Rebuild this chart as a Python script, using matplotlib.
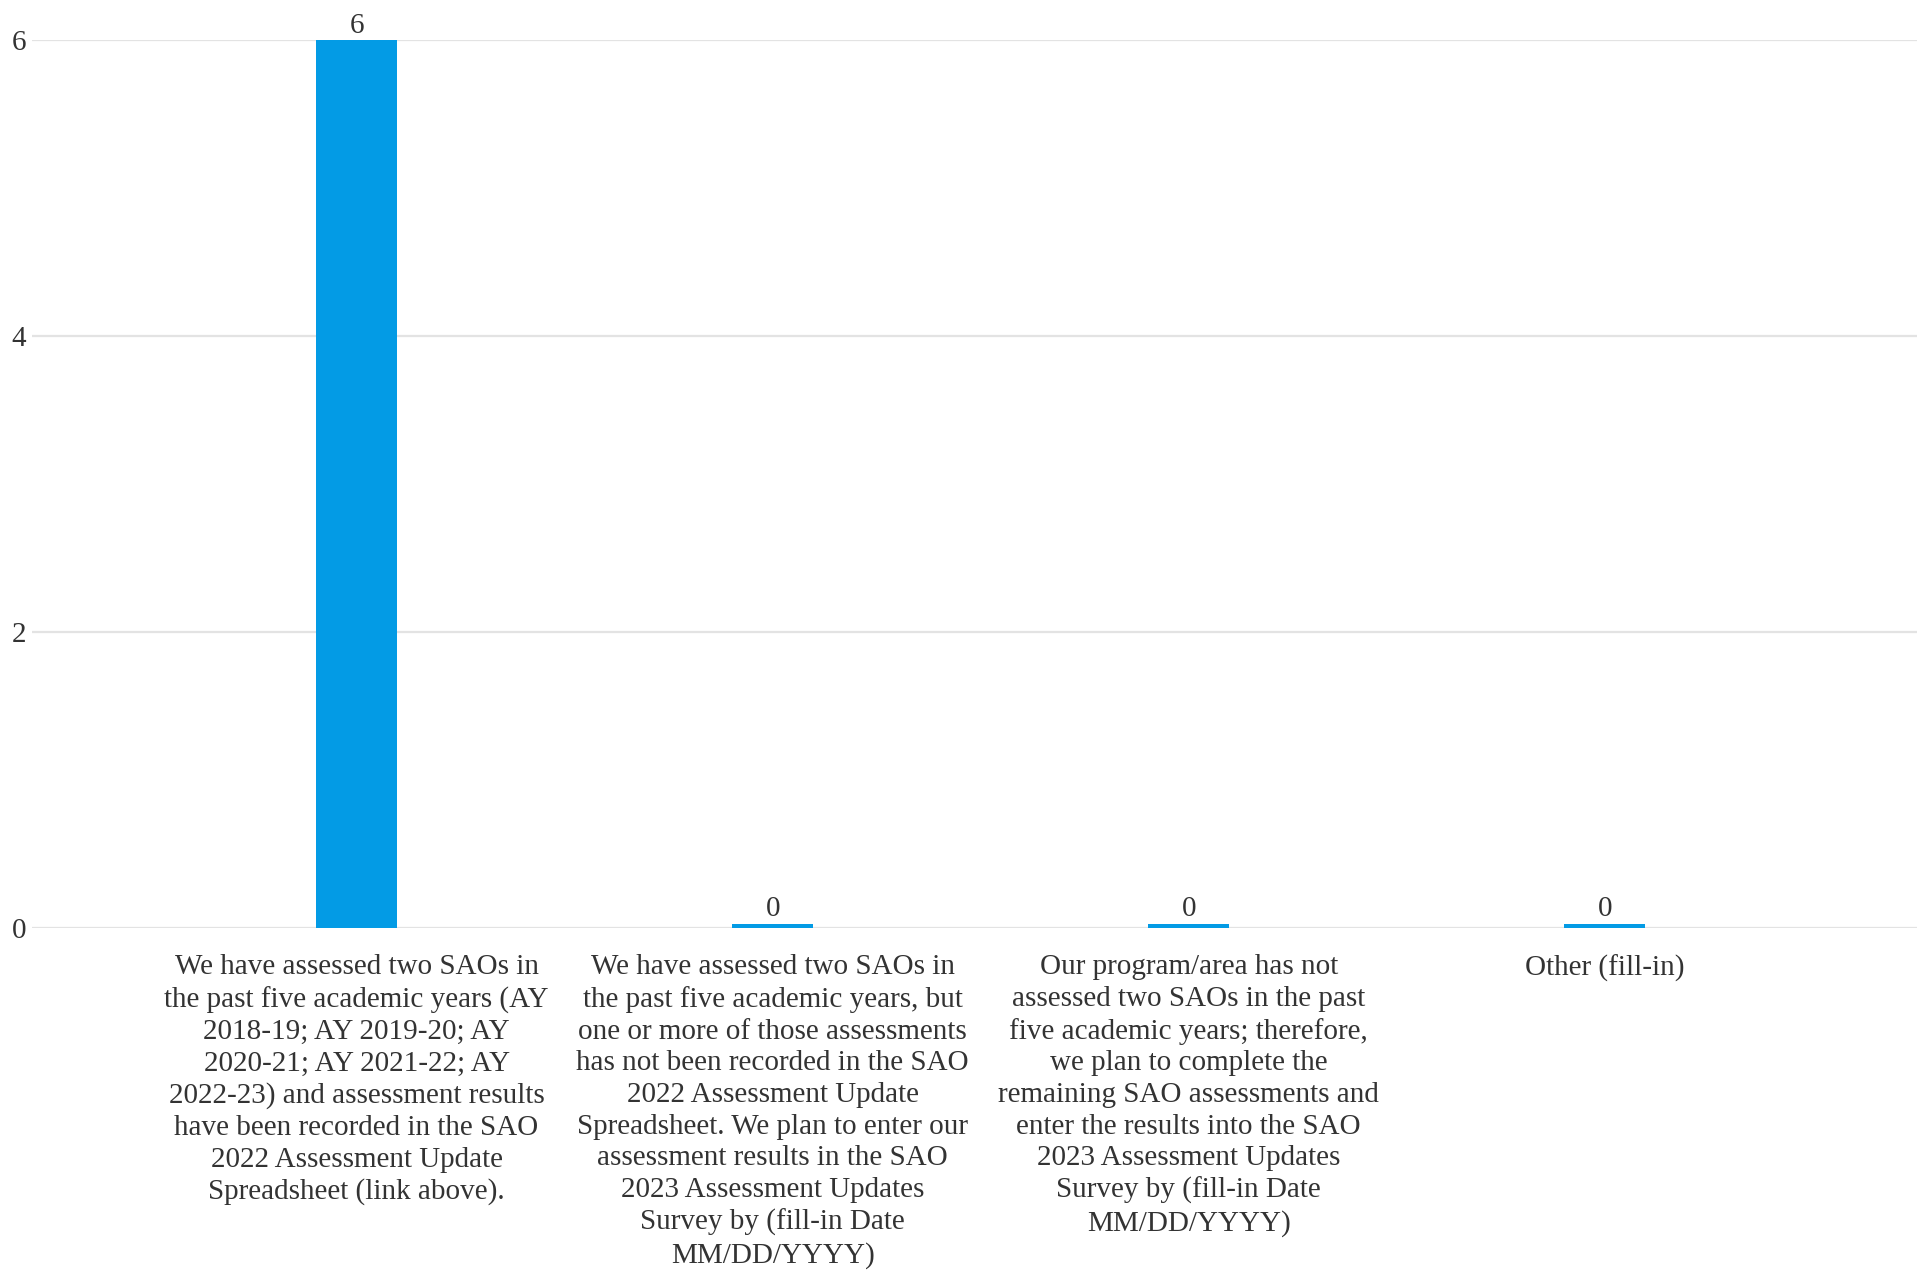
import numpy as np
import matplotlib.pyplot as plt

plt.rcParams['font.family'] = ['Liberation Serif', 'DejaVu Serif']

categories = [
    "We have assessed two SAOs in\nthe past five academic years (AY\n2018-19; AY 2019-20; AY\n2020-21; AY 2021-22; AY\n2022-23) and assessment results\nhave been recorded in the SAO\n2022 Assessment Update\nSpreadsheet (link above).",
    "We have assessed two SAOs in\nthe past five academic years, but\none or more of those assessments\nhas not been recorded in the SAO\n2022 Assessment Update\nSpreadsheet. We plan to enter our\nassessment results in the SAO\n2023 Assessment Updates\nSurvey by (fill-in Date\nMM/DD/YYYY)",
    "Our program/area has not\nassessed two SAOs in the past\nfive academic years; therefore,\nwe plan to complete the\nremaining SAO assessments and\nenter the results into the SAO\n2023 Assessment Updates\nSurvey by (fill-in Date\nMM/DD/YYYY)",
    "Other (fill-in)",
]
counts = [6, 0, 0, 0]
yticks = [0, 2, 4, 6]

bar_color = '#039be5'
text_color = '#333333'
min_h = 0.03  # zero bars still show a thin sliver

fig = plt.figure(figsize=(19.17, 12.71), dpi=100)
ax = fig.add_axes([0.0167, 0.2699, 0.9833, 0.6986])

x = np.arange(len(counts))
heights = [max(c, min_h) for c in counts]
ax.bar(x, heights, width=0.195, color=bar_color, zorder=3)
for xi, c, h in zip(x, counts, heights):
    ax.annotate(str(c), (xi, h), xytext=(0, 1), textcoords='offset points',
                ha='center', va='bottom', fontsize=21, color=text_color,
                annotation_clip=False)

ax.set_xlim(-0.78, 3.75)
ax.set_ylim(0, 6)
ax.set_yticks(yticks)
ax.set_yticklabels([str(t) for t in yticks], fontsize=21, color=text_color)
ax.set_xticks(x)
ax.set_xticklabels(categories, fontsize=21, color=text_color, linespacing=1.28)
ax.tick_params(axis='x', length=0, pad=19)
ax.tick_params(axis='y', length=0, pad=4)
ax.grid(axis='y', color='#e3e3e3', lw=1.6, zorder=0)
ax.set_axisbelow(True)
for s in ax.spines.values():
    s.set_visible(False)

fig.savefig('out.png', dpi=100)
